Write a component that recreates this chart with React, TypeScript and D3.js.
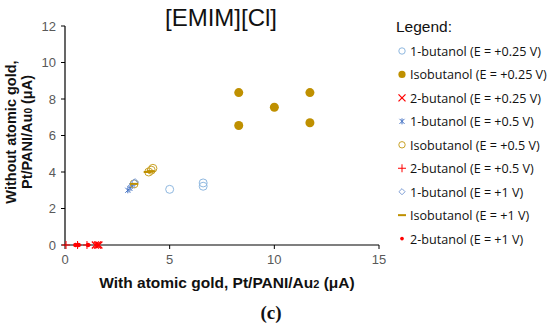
import React from 'react';
import * as d3 from 'd3';

// values, [x, y] in µA
const butanol1_025: [number, number][] = [[5.0, 3.05], [6.6, 3.4], [6.6, 3.22]];
const isobutanol_025: [number, number][] = [[8.3, 8.35], [8.3, 6.55], [10.0, 7.55], [11.7, 8.35], [11.7, 6.7]];
const butanol2_025: [number, number][] = [[1.45, 0], [1.55, 0], [1.62, 0]];
const butanol1_05: [number, number][] = [[3.0, 3.0], [3.1, 3.1], [3.2, 3.25]];
const isobutanol_05: [number, number][] = [[3.3, 3.35], [4.0, 4.0], [4.12, 4.1], [4.2, 4.2]];
const butanol2_05: [number, number][] = [[0.05, 0], [0.6, 0], [1.05, 0]];
const butanol1_1: [number, number][] = [[3.15, 3.2], [3.3, 3.42], [3.35, 3.45]];
const isobutanol_1: [number, number][] = [[3.3, 3.35], [3.95, 4.0], [4.1, 4.05]];
const butanol2_1: [number, number][] = [[0.5, 0], [0.65, 0], [1.1, 0]];

const xTicks = [0, 5, 10, 15];
const yTicks = [0, 2, 4, 6, 8, 10, 12];

type Marker = 'circle' | 'dot' | 'x' | 'star' | 'plus' | 'diamond' | 'dash' | 'small';

const series: { label: string; data: [number, number][]; marker: Marker; color: string }[] = [
  { label: '1-butanol (E = +0.25 V)', data: butanol1_025, marker: 'circle', color: '#8fb8e0' },
  { label: 'Isobutanol (E = +0.25 V)', data: isobutanol_025, marker: 'dot', color: '#bf9000' },
  { label: '2-butanol (E = +0.25 V)', data: butanol2_025, marker: 'x', color: '#ff0000' },
  { label: '1-butanol (E = +0.5 V)', data: butanol1_05, marker: 'star', color: '#4472c4' },
  { label: 'Isobutanol (E = +0.5 V)', data: isobutanol_05, marker: 'circle', color: '#c9a227' },
  { label: '2-butanol (E = +0.5 V)', data: butanol2_05, marker: 'plus', color: '#ff0000' },
  { label: '1-butanol (E = +1 V)', data: butanol1_1, marker: 'diamond', color: '#7f9fd6' },
  { label: 'Isobutanol (E = +1 V)', data: isobutanol_1, marker: 'dash', color: '#bf9000' },
  { label: '2-butanol (E = +1 V)', data: butanol2_1, marker: 'small', color: '#ff0000' },
];

const margin = { left: 65, right: 171, top: 26, bottom: 80 };
const W = 550;
const H = 325;

const x = d3.scaleLinear().domain([0, 15]).range([margin.left, W - margin.right]);
const y = d3.scaleLinear().domain([0, 12]).range([H - margin.bottom, margin.top]);

function MarkerShape({ m, color, cx, cy, s = 1 }: { m: Marker; color: string; cx: number; cy: number; s?: number }) {
  const t = `translate(${cx},${cy})`;
  switch (m) {
    case 'circle':
      return <circle cx={cx} cy={cy} r={4 * s} fill="none" stroke={color} strokeWidth={1} />;
    case 'dot':
      return <circle cx={cx} cy={cy} r={4.5 * s} fill={color} />;
    case 'small':
      return <circle cx={cx} cy={cy} r={2.3 * s} fill={color} />;
    case 'x':
      return <path transform={t} d={`M-3.5,-3.5L3.5,3.5M-3.5,3.5L3.5,-3.5`} stroke={color} strokeWidth={1.3} />;
    case 'star':
      return <path transform={t} d={`M-2.5,-2.5L2.5,2.5M-2.5,2.5L2.5,-2.5M0,-3L0,3`} stroke={color} strokeWidth={1} />;
    case 'plus':
      return <path transform={t} d={`M-4,0L4,0M0,-4L0,4`} stroke={color} strokeWidth={1} />;
    case 'diamond':
      return <path transform={t} d={d3.symbol(d3.symbolDiamond2, 30 * s)()!} fill="none" stroke={color} strokeWidth={1} />;
    case 'dash':
      return <path transform={t} d={`M-4,0L4,0`} stroke={color} strokeWidth={2} />;
  }
}

export default function App() {
  const tickColor = '#595959';
  const legendX = 402;
  return (
    <svg width={W} height={H} style={{ display: 'block', position: 'absolute', left: 0, top: 0 }}>
      <rect width={W} height={H} fill="#fff" />
      <text x={221} y={26} textAnchor="middle" fontFamily="Arial, 'Liberation Sans'" fontSize={24} fill="#111">[EMIM][Cl]</text>

      {/* axes */}
      <line x1={x(0)} x2={x(0)} y1={y(0)} y2={y(12)} stroke="#000" strokeWidth={1.2} />
      <line x1={x(0)} x2={x(15)} y1={y(0)} y2={y(0)} stroke="#000" strokeWidth={1.2} />
      {yTicks.map(t => (
        <g key={'y' + t}>
          <line x1={x(0) - 4} x2={x(0)} y1={y(t)} y2={y(t)} stroke="#000" />
          <text x={x(0) - 9} y={y(t) + 4.5} textAnchor="end" fontFamily="Arial, 'Liberation Sans'" fontSize={13} fill={tickColor}>{t}</text>
        </g>
      ))}
      {xTicks.map(t => (
        <g key={'x' + t}>
          <line x1={x(t)} x2={x(t)} y1={y(0)} y2={y(0) + 4} stroke="#000" />
          <text x={x(t)} y={y(0) + 19} textAnchor="middle" fontFamily="Arial, 'Liberation Sans'" fontSize={13} fill={tickColor}>{t}</text>
        </g>
      ))}

      {/* points */}
      {series.map((sr, i) =>
        sr.data.map((d, j) => <MarkerShape key={i + '-' + j} m={sr.marker} color={sr.color} cx={x(d[0])} cy={y(d[1])} />)
      )}

      {/* axis titles */}
      <text x={227} y={288} textAnchor="middle" fontFamily="Arial, 'Liberation Sans'" fontWeight="bold" fontSize={15.5} fill="#111">
        With atomic gold, Pt/PANI/Au<tspan fontSize={11}>2</tspan> (μA)
      </text>
      <g transform="translate(16,132) rotate(-90)">
        <text x={0} y={0} textAnchor="middle" fontFamily="Arial, 'Liberation Sans'" fontWeight="bold" fontSize={14.5} fill="#111">Without atomic gold,</text>
        <text x={0} y={15.5} textAnchor="middle" fontFamily="Arial, 'Liberation Sans'" fontWeight="bold" fontSize={14.5} fill="#111">
          Pt/PANI/Au<tspan fontSize={10}>0</tspan> (μA)
        </text>
      </g>
      <text x={271} y={319} textAnchor="middle" fontFamily="'Liberation Serif', serif" fontWeight="bold" fontSize={19} fill="#111">(c)</text>

      {/* legend */}
      <text x={396} y={32} fontFamily="Arial, 'Liberation Sans'" fontSize={15.5} fill="#111">Legend:</text>
      {series.map((sr, i) => {
        const ly = 51 + i * 23.45;
        return (
          <g key={'l' + i}>
            <MarkerShape m={sr.marker} color={sr.color} cx={legendX} cy={ly} s={0.8} />
            <text x={410} y={ly + 5} fontFamily="'Open Sans', sans-serif" fontSize={12.6} fill="#111">{sr.label}</text>
          </g>
        );
      })}
    </svg>
  );
}
